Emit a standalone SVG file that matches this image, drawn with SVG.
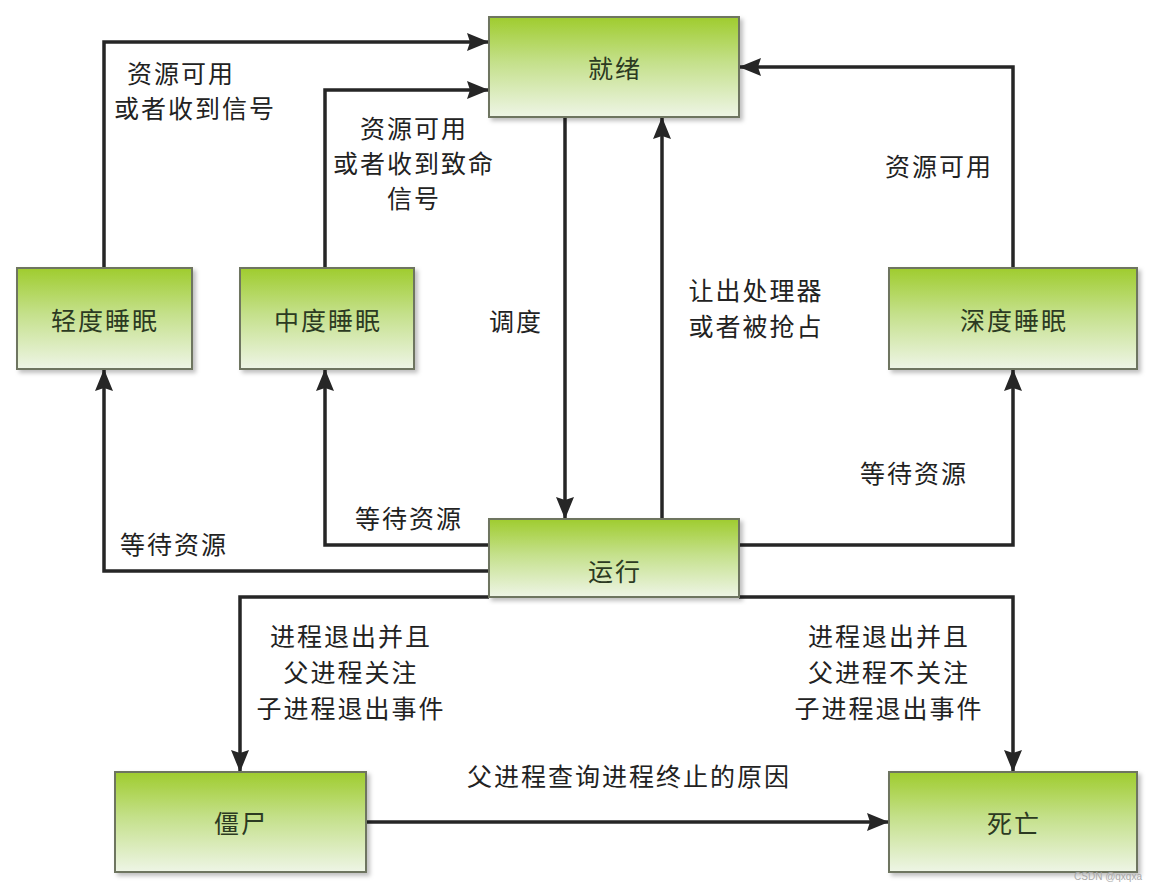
<svg xmlns="http://www.w3.org/2000/svg" width="1158" height="893" viewBox="0 0 1158 893">
<defs>
<linearGradient id="g" x1="0" y1="0" x2="0" y2="1">
<stop offset="0" stop-color="#9fcc2e"/>
<stop offset="0.45" stop-color="#c4e08a"/>
<stop offset="1" stop-color="#eef5e6"/>
</linearGradient>
<filter id="sh" x="-5%" y="-5%" width="112%" height="115%">
<feDropShadow dx="3" dy="3" stdDeviation="2" flood-color="#000" flood-opacity="0.25"/>
</filter>
<marker id="a" viewBox="0 0 22 18" refX="22" refY="9" markerWidth="22" markerHeight="18" markerUnits="userSpaceOnUse" orient="auto">
<path d="M0,0 L22,9 L0,18 L3,9 Z" fill="#262626"/>
</marker>
<style>
.n rect{fill:url(#g);stroke:#6e7560;stroke-width:2;filter:url(#sh)}
.n text{font-family:"Noto Sans CJK SC","Noto Sans",sans-serif;font-size:25px;letter-spacing:2px;fill:#2c3a22;text-anchor:middle;dominant-baseline:central}
.c path{fill:none;stroke:#262626;stroke-width:3.5;marker-end:url(#a)}
.l{font-family:"Noto Sans CJK SC","Noto Sans",sans-serif;font-size:25px;letter-spacing:2px;fill:#222;text-anchor:middle;dominant-baseline:central}
</style>
</defs>
<rect width="1158" height="893" fill="#fff"/>
<g class="c">
<path d="M104,268 V42 H489"/>
<path d="M325,268 V90 H489"/>
<path d="M565,117 V519"/>
<path d="M662,519 V117"/>
<path d="M1013,268 V67 H739"/>
<path d="M489,571 H104 V369"/>
<path d="M489,545 H325 V369"/>
<path d="M739,545 H1013 V369"/>
<path d="M489,597 H240 V772"/>
<path d="M739,597 H1013 V772"/>
<path d="M366,822 H889"/>
</g>
<g id="jiuxu" class="n"><rect x="489" y="17" width="250" height="100"/><text x="615" y="67">就绪</text></g>
<g id="qingdu" class="n"><rect x="17" y="268" width="175" height="101"/><text x="105" y="319">轻度睡眠</text></g>
<g id="zhongdu" class="n"><rect x="240" y="268" width="174" height="101"/><text x="328" y="319">中度睡眠</text></g>
<g id="shendu" class="n"><rect x="889" y="268" width="248" height="101"/><text x="1014" y="319">深度睡眠</text></g>
<g id="yunxing" class="n"><rect x="489" y="519" width="250" height="78"/><text x="615" y="570">运行</text></g>
<g id="jiangshi" class="n"><rect x="115" y="772" width="251" height="100"/><text x="241" y="822">僵尸</text></g>
<g id="siwang" class="n"><rect x="889" y="772" width="248" height="100"/><text x="1014" y="822">死亡</text></g>
<g id="labels">
<text class="l" x="181" y="72">资源可用</text>
<text class="l" x="195" y="107">或者收到信号</text>
<text class="l" x="414" y="127">资源可用</text>
<text class="l" x="414" y="162">或者收到致命</text>
<text class="l" x="414" y="197">信号</text>
<text class="l" x="516" y="320">调度</text>
<text class="l" x="756" y="289">让出处理器</text>
<text class="l" x="756" y="325">或者被抢占</text>
<text class="l" x="939" y="165">资源可用</text>
<text class="l" x="174" y="543">等待资源</text>
<text class="l" x="409" y="517">等待资源</text>
<text class="l" x="914" y="472">等待资源</text>
<text class="l" x="351" y="635">进程退出并且</text>
<text class="l" x="351" y="671">父进程关注</text>
<text class="l" x="351" y="707">子进程退出事件</text>
<text class="l" x="889" y="635">进程退出并且</text>
<text class="l" x="889" y="671">父进程不关注</text>
<text class="l" x="889" y="707">子进程退出事件</text>
<text class="l" x="629" y="775">父进程查询进程终止的原因</text>
</g>
<text x="1108" y="880" font-family="Liberation Sans,sans-serif" font-size="10" fill="#aaa" text-anchor="middle">CSDN @qxqxa</text>
</svg>
